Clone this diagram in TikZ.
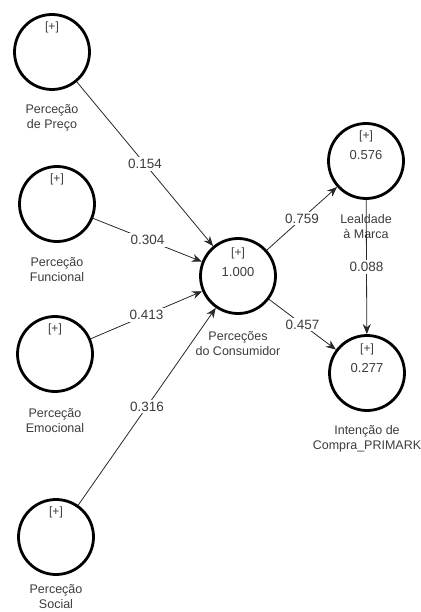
\documentclass[tikz,border=0pt]{standalone}
\usepackage{fontspec}
\setmainfont{Liberation Sans}
\definecolor{plsText}{RGB}{60,60,60}
\definecolor{plsLine}{RGB}{40,40,40}
\usetikzlibrary{arrows.meta,positioning,calc}

\begin{document}
\begin{tikzpicture}[
  x=1pt, y=-1pt,
  lv/.style={draw=black, circle, line width=2.8pt, minimum size=75pt, inner sep=0pt},
  lvtag/.style={font=\fontsize{12}{15}\selectfont, text=plsText, inner sep=1pt},
  lvrsq/.style={font=\fontsize{13}{15}\selectfont, text=plsText, inner sep=1pt},
  lvlabel/.style={font=\fontsize{12.5}{15}\selectfont, text=plsText, align=center, inner sep=0pt},
  arrowpath/.style={draw=plsLine, line width=0.8pt, -{Stealth[length=10pt, width=8pt]}},
  coef/.style={font=\fontsize{13.5}{15}\selectfont, text=plsText, fill=white, inner sep=2pt}
]
  \useasboundingbox (0,0) rectangle (420,612);

  % latent variables
  \node[lv] (pp) at (52,52)   {};
  \node[lv] (pf) at (57,204)  {};
  \node[lv] (pe) at (55,354)  {};
  \node[lv] (ps) at (56,537)  {};
  \node[lv] (pc) at (238,276) {};
  \node[lv] (lm) at (366,161) {};
  \node[lv] (ic) at (367,373) {};

  % [+] and R-square inside the circles
  \node[lvtag] (ppt) at ([yshift=25pt]pp.center) {[+]};
  \node[lvtag] (pft) at ([yshift=25pt]pf.center) {[+]};
  \node[lvtag] (pet) at ([yshift=25pt]pe.center) {[+]};
  \node[lvtag] (pst) at ([yshift=25pt]ps.center) {[+]};
  \node[lvtag] (pct) at ([yshift=23pt]pc.center) {[+]};
  \node[lvtag] (lmt) at ([yshift=25pt]lm.center) {[+]};
  \node[lvtag] (ict) at ([yshift=24pt]ic.center) {[+]};
  \node[lvrsq] (pcr) at ([yshift=4pt]pc.center) {1.000};
  \node[lvrsq] (lmr) at ([yshift=6pt]lm.center) {0.576};
  \node[lvrsq] (icr) at ([yshift=5pt]ic.center) {0.277};

  % names below the circles
  \node[lvlabel] (ppn) at ([yshift=-66pt]pp.center) {Perceção\\de Preço};
  \node[lvlabel] (pfn) at ([yshift=-66pt]pf.center) {Perceção\\Funcional};
  \node[lvlabel] (pen) at ([yshift=-67pt]pe.center) {Perceção\\Emocional};
  \node[lvlabel] (psn) at ([yshift=-60pt]ps.center) {Perceção\\Social};
  \node[lvlabel] (pcn) at ([yshift=-68pt]pc.center) {Perceções\\do Consumidor};
  \node[lvlabel] (lmn) at ([yshift=-66pt]lm.center) {Lealdade\\à Marca};
  \node[lvlabel] (icn) at ([yshift=-66pt]ic.center) {Intenção de\\Compra\_PRIMARK};

  % path coefficients
  \draw[arrowpath] (pp) -- node[coef] (c1) {0.154} (pc);
  \draw[arrowpath] (pf) -- node[coef] (c2) {0.304} (pc);
  \draw[arrowpath] (pe) -- node[coef] (c3) {0.413} (pc);
  \draw[arrowpath] (ps) -- node[coef] (c4) {0.316} (pc);
  \draw[arrowpath] (pc) -- node[coef] (c5) {0.759} (lm);
  \draw[arrowpath] (pc) -- node[coef] (c6) {0.457} (ic);
  \draw[arrowpath] (lm) -- node[coef] (c7) {0.088} (ic);
\end{tikzpicture}
\end{document}
